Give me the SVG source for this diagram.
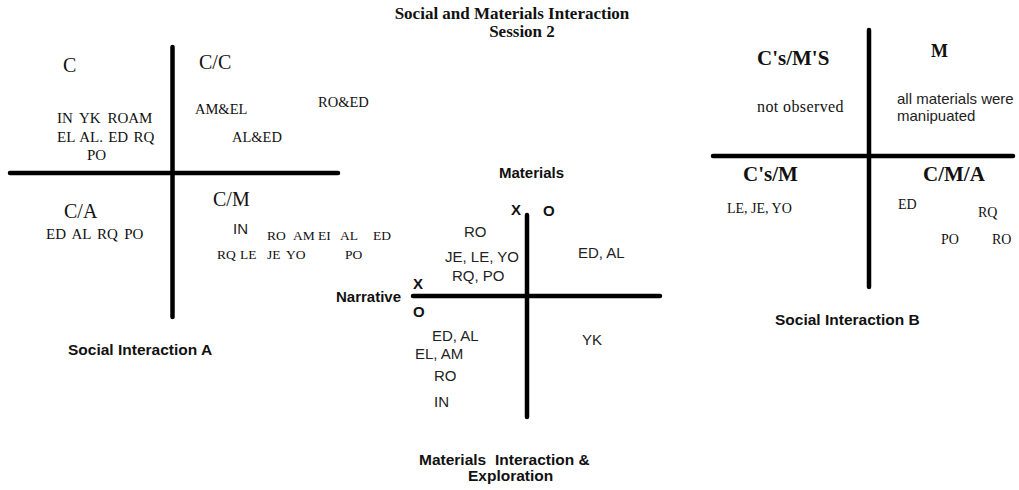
<svg xmlns="http://www.w3.org/2000/svg" width="1019" height="490" viewBox="0 0 1019 490">
<style>
.ax{stroke:#000;stroke-width:4.5;stroke-linecap:round;fill:none}
.t{font-family:"Liberation Serif","Times New Roman",serif;fill:#111}
.tb{font-family:"Liberation Serif","Times New Roman",serif;font-weight:bold;fill:#111}
.q{font-family:"Liberation Serif","Times New Roman",serif;font-size:20px;fill:#111}
.qb{font-family:"Liberation Serif","Times New Roman",serif;font-size:21px;font-weight:bold;fill:#111}
.s{font-family:"Liberation Sans",Arial,sans-serif;font-size:15px;fill:#222}
.sb{font-family:"Liberation Sans",Arial,sans-serif;font-size:15px;font-weight:bold;fill:#111}
.lab{font-family:"Liberation Sans",Arial,sans-serif;font-size:15.5px;font-weight:bold;fill:#111}
.m{font-family:"Liberation Serif","Times New Roman",serif;font-size:13.5px;fill:#111}
</style>
<rect width="1019" height="490" fill="#fff"/>
<g id="connectors">
<line class="ax" x1="172.5" y1="47" x2="172.5" y2="317"/>
<line class="ax" x1="10" y1="173" x2="338" y2="173"/>
<line class="ax" x1="527" y1="215" x2="527" y2="417"/>
<line class="ax" x1="413" y1="296" x2="660" y2="296"/>
<line class="ax" x1="869" y1="30" x2="869" y2="287"/>
<line class="ax" x1="713" y1="156" x2="1013" y2="156"/>
</g>
<g id="title">
<text class="tb" x="512" y="19" font-size="17" text-anchor="middle">Social and Materials Interaction</text>
<text class="tb" x="522" y="37" font-size="17" text-anchor="middle">Session 2</text>
</g>
<g id="social-interaction-a">
<text class="q" x="63" y="72">C</text>
<text class="q" x="199" y="69">C/C</text>
<text class="t" x="57" y="123" font-size="15" word-spacing="3">IN YK ROAM</text>
<text class="t" x="57" y="142" font-size="15" word-spacing="1.5">EL AL. ED RQ</text>
<text class="t" x="87" y="160" font-size="15">PO</text>
<text class="t" x="195" y="114" font-size="14.5">AM&amp;EL</text>
<text class="t" x="232" y="142" font-size="14.5">AL&amp;ED</text>
<text class="t" x="318" y="107" font-size="14.5">RO&amp;ED</text>
<text class="q" x="213" y="206">C/M</text>
<text class="q" x="64" y="218">C/A</text>
<text class="t" x="46" y="239" font-size="15" word-spacing="2.5">ED AL RQ PO</text>
<text class="s" x="233" y="234" font-size="14">IN</text>
<text class="m" y="240"><tspan x="267">RO</tspan><tspan x="293">AM</tspan><tspan x="318">EI</tspan><tspan x="340">AL</tspan><tspan x="373">ED</tspan></text>
<text class="m" y="259"><tspan x="217">RQ</tspan><tspan x="240">LE</tspan><tspan x="267">JE</tspan><tspan x="286">YO</tspan><tspan x="345">PO</tspan></text>
<text class="lab" x="68" y="355">Social Interaction A</text>
</g>
<g id="materials-interaction">
<text class="sb" x="499" y="178">Materials</text>
<text class="sb" x="511" y="215">X</text>
<text class="sb" x="543" y="216">O</text>
<text class="s" x="464" y="237">RO</text>
<text class="s" x="445" y="262">JE, LE, YO</text>
<text class="s" x="452" y="281">RQ, PO</text>
<text class="s" x="578" y="258">ED, AL</text>
<text class="sb" x="413" y="289">X</text>
<text class="sb" x="336" y="302">Narrative</text>
<text class="sb" x="413" y="317">O</text>
<text class="s" x="432" y="341">ED, AL</text>
<text class="s" x="415" y="359">EL, AM</text>
<text class="s" x="434" y="381">RO</text>
<text class="s" x="434" y="407">IN</text>
<text class="s" x="582" y="345">YK</text>
<text class="lab" y="465"><tspan x="419">Materials</tspan><tspan x="495">Interaction &amp;</tspan></text>
<text class="lab" x="468" y="481">Exploration</text>
</g>
<g id="social-interaction-b">
<text class="qb" x="757" y="65">C's/M'S</text>
<text class="tb" x="931" y="57" font-size="18">M</text>
<text class="t" x="757" y="112" font-size="16" letter-spacing="0.4">not observed</text>
<text class="s" x="897" y="104" font-size="14.5">all materials were</text>
<text class="s" x="897" y="121" font-size="14.5">manipuated</text>
<text class="qb" x="743" y="181">C's/M</text>
<text class="qb" x="923" y="181">C/M/A</text>
<text class="t" x="727" y="213" font-size="14">LE, JE, YO</text>
<text class="t" x="898" y="209" font-size="14">ED</text>
<text class="t" x="978" y="217" font-size="14">RQ</text>
<text class="t" x="941" y="244" font-size="14">PO</text>
<text class="t" x="992" y="244" font-size="14">RO</text>
<text class="lab" x="775" y="325">Social Interaction B</text>
</g>
</svg>
